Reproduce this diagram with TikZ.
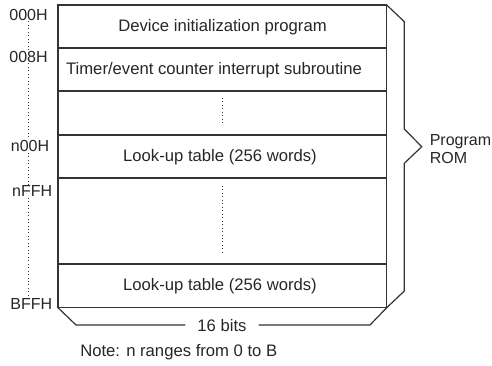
\documentclass[tikz,border=0pt]{standalone}
\usepackage{fontspec}
\setmainfont{Liberation Sans}
\begin{document}
\begin{tikzpicture}[x=0.75pt,y=0.75pt,yscale=-1,xscale=1,
  every node/.style={font=\fontsize{12.5}{14}\selectfont, inner sep=0.75pt, text=black!85},
  rowline/.style={draw=black!80, line width=0.9pt},
  guide/.style={draw=black!80, dotted, line width=0.6pt}]
\useasboundingbox (0,0) rectangle (492,366);

%Memory box [id:box]
\coordinate (tl) at (58,5);
\coordinate (br) at (386.7,307.7);
\draw[rowline] (tl) rectangle (br);
%Row separators
\foreach \y in {48,91,135,178,264}
  \draw[rowline] (58,\y) -- (386.7,\y);

% Text Node
\node (init) at (222.5,27) {Device initialization program};
% Text Node
\node (timer) at (214,70) {Timer/event counter interrupt subroutine};
% Text Node
\node (lut1) at (220,157) {Look-up table (256 words)};
% Text Node
\node (lut2) at (220,286.5) {Look-up table (256 words)};

%Dotted lines in the box
\draw[guide] (222.5,98) -- (222.5,124);
\draw[guide] (222.5,186) -- (222.5,255);

% Address labels
\node[font=\fontsize{12}{14}\selectfont] (a000) at (28.5,14.5) {000H};
\node[font=\fontsize{12}{14}\selectfont] (a008) at (28.5,56.5) {008H};
\node[font=\fontsize{12}{14}\selectfont] (an00) at (30,146) {n00H};
\node[font=\fontsize{12}{14}\selectfont, anchor=east] (anff) at (53.5,191) {nFFH};
\node[font=\fontsize{12}{14}\selectfont, anchor=east] (abff) at (53.5,303.5) {BFFH};
%Dotted address guides
\draw[guide] (a000.south -| 28,0) -- (a008.north -| 28,0);
\draw[guide] (a008.south -| 28,0) -- (an00.north -| 28,0);
\draw[guide] (an00.south -| 28,0) -- (anff.north -| 28,0);
\draw[guide] (anff.south -| 28,0) -- (abff.north -| 28,0);

%Right brace [id:rom]
\coordinate (r1) at (404.3,21.7);
\coordinate (r2) at (404.3,129);
\coordinate (rtip) at (421.7,146.7);
\coordinate (r3) at (404.3,163.3);
\coordinate (r4) at (404.3,291);
\draw[rowline] (386.7,5) -- (r1) -- (r2) -- (rtip) -- (r3) -- (r4) -- (br);
% Text Node
\node[font=\fontsize{12}{14}\selectfont, anchor=west, align=left] (rom) at (428.5,149) {Program\\ROM};

%Bottom brace [id:bits]
\node[inner xsep=8.8pt] (bits) at (222,326) {16 bits};
\coordinate (b1) at (76,325);
\coordinate (b2) at (370,325);
\draw[rowline] (58,307.7) -- (b1) -- (bits.west |- b1);
\draw[rowline] (bits.east |- b2) -- (b2) -- (br);

% Text Node
\node[anchor=west] (note) at (79,352) {Note: n ranges from 0 to B};

\end{tikzpicture}
\end{document}
